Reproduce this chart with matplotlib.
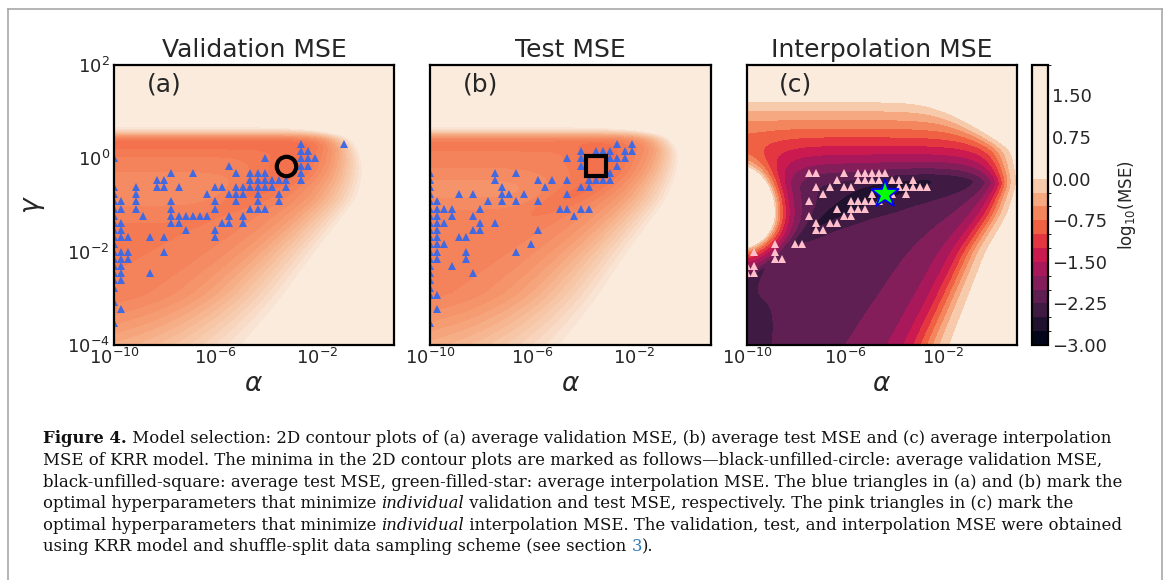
import numpy as np
import matplotlib
matplotlib.use("Agg")
import matplotlib.pyplot as plt
from matplotlib.colors import ListedColormap, BoundaryNorm
from matplotlib.transforms import IdentityTransform
from matplotlib.lines import Line2D
from matplotlib.ticker import NullLocator, FuncFormatter
import seaborn as sns

# ---------------- data ----------------
# hyperparameter grid (40 x 40, log spaced)
alpha_grid = np.logspace(-10, 1, 40)
gamma_grid = np.logspace(-4, 2, 40)

# blue triangles, validation MSE (grid indices: i -> alpha, j -> gamma)
val_rows = {
    28: [26, 32], 27: [26, 27], 26: [0, 21, 26, 27, 28], 25: [16, 26, 27],
    24: [8, 11, 17, 19, 20, 21, 26], 23: [6, 7, 19, 20, 21, 22, 23, 24, 26],
    22: [0, 3, 6, 7, 9, 14, 15, 17, 18, 19, 20, 21, 22, 24],
    21: [0, 3, 13, 16, 17, 18, 20, 23], 20: [0, 1, 3, 8, 14, 17, 20, 23],
    19: [0, 1, 3, 8, 14, 19, 20, 21], 18: [0, 4, 8, 9, 10, 11, 12, 13, 16, 18],
    17: [0, 1, 8, 9, 15, 16, 18], 16: [0, 1, 10, 14], 15: [0, 1, 2, 5, 7, 14],
    14: [0], 13: [0, 1, 2, 7], 12: [0, 1, 2], 11: [0, 1], 10: [0, 1, 5],
    9: [0, 1], 8: [0], 6: [0], 5: [1], 3: [0],
}
# blue triangles, test MSE
test_rows = {
    28: [26, 28], 27: [21, 23, 24, 25, 27, 28], 26: [19, 21, 25, 26, 27],
    25: [21, 26], 24: [0, 9, 12, 25], 23: [0, 9, 15, 17, 19, 22, 23, 24, 25],
    22: [0, 10, 16, 21, 22], 21: [0, 4, 6, 10, 11, 13, 19],
    20: [0, 1, 8, 10, 12, 15], 19: [0, 1, 2, 3, 7, 18, 19, 21, 22],
    18: [0, 1, 3, 6, 20], 17: [0, 1, 2, 7, 9], 16: [0, 1, 6, 7, 15],
    15: [0, 1, 4, 5], 14: [0, 1, 2, 14], 13: [0, 1, 5, 12], 12: [0, 1, 5],
    11: [0, 3], 10: [0, 6], 9: [0], 8: [0], 7: [0, 1], 5: [1], 3: [0],
}
# pink triangles, interpolation MSE
interp_rows = {
    24: [9, 10, 14, 16, 17, 18, 19, 20], 23: [13, 16, 17, 18, 19, 21, 22, 24],
    22: [10, 12, 14, 15, 22, 23, 24, 25, 26], 21: [11, 18, 21, 23],
    20: [9, 15, 16, 17, 18, 19], 19: [13, 15, 16, 17], 18: [9, 14, 15],
    17: [10, 12, 13], 16: [10, 11], 14: [4, 7, 8], 13: [1, 4], 12: [4, 5],
    11: [0, 1], 10: [0, 1],
}
# minima of the averaged MSE (grid indices)
val_min = (24, 25)
test_min = (23, 25)
interp_min = (20, 21)

# outer (high-MSE) boundaries on the right side of each map, read from the
# picture: log10(gamma) -> log10(alpha)
edge_a_lg = [-4.0, -2.0, -0.88, -0.39, 0.0, 0.46, 0.67, 0.85]
edge_a_la = [-3.8, -1.45, -0.05, 0.1, 0.0, -0.45, -1.5, -6.0]
edge_b_lg = [-4.0, -2.0, -0.88, -0.3, 0.1, 0.5, 0.67, 0.85]
edge_b_la = [-3.7, -1.6, -0.3, 0.0, 0.0, -0.4, -1.3, -6.0]
edge_c_lg = [-4.0, -2.0, -1.2, -0.5, 0.2, 0.55, 0.9, 1.25, 1.6]
edge_c_la = [-1.4, 0.0, 0.85, 1.2, 1.0, 0.0, -1.1, -2.5, -8.0]

titles = ["Validation MSE", "Test MSE", "Interpolation MSE"]
panel_tags = ["(a)", "(b)", "(c)"]
cbar_ticks = [-3.0, -2.25, -1.5, -0.75, 0.0, 0.75, 1.5]
levels_c = list(np.arange(-3.0, 0.001, 0.25)) + [2.05]

caption_lines = [
    [("Figure 4.", "bold"), (" Model selection: 2D contour plots of (a) average validation MSE, (b) average test MSE and (c) average interpolation", "normal")],
    [("MSE of KRR model. The minima in the 2D contour plots are marked as follows\u2014black-unfilled-circle: average validation MSE,", "normal")],
    [("black-unfilled-square: average test MSE, green-filled-star: average interpolation MSE. The blue triangles in (a) and (b) mark the", "normal")],
    [("optimal hyperparameters that minimize ", "normal"), ("individual", "italic"), (" validation and test MSE, respectively. The pink triangles in (c) mark the", "normal")],
    [("optimal hyperparameters that minimize ", "normal"), ("individual", "italic"), (" interpolation MSE. The validation, test, and interpolation MSE were obtained", "normal")],
    [("using KRR model and shuffle-split data sampling scheme (see section ", "normal"), ("3", "link"), (").", "normal")],
]


def rows_to_xy(rows):
    xs, ys = [], []
    for j, iis in rows.items():
        for i in iis:
            xs.append(alpha_grid[i])
            ys.append(gamma_grid[j])
    return np.array(xs), np.array(ys)


# ---------------- surfaces (log10 alpha = U, log10 gamma = V) ----------------
u = np.linspace(-10, 1, 440)
v = np.linspace(-4, 2, 300)
U, V = np.meshgrid(u, v)
A, G = 10.0 ** U, 10.0 ** V


def sig(x):
    return 1.0 / (1.0 + np.exp(-x))


def softplus(x, w):
    return w * np.log1p(np.exp(np.clip(x / w, -50, 50)))


def smooth_edge(lg, la, width=0.12):
    e = np.interp(v, lg, la)
    kern = np.exp(-0.5 * (np.arange(-25, 26) * (v[1] - v[0]) / width) ** 2)
    kern /= kern.sum()
    e = np.convolve(np.pad(e, 25, mode="edge"), kern, mode="valid")
    return e[:, None] * np.ones_like(U)


def shape_ab(top_dark, wedge_u, diag_off, min_u, min_amp, base, edge_lg, edge_la):
    fin = (base
           - top_dark * np.exp(-((V - 0.32) / 0.16) ** 2) * sig((-1.8 - U) / 0.5)
           + 0.13 * np.exp(-((V + 0.65) / 0.45) ** 2) * sig((wedge_u - U) / 0.6)
           - 0.12 * np.exp(-((V - (diag_off + 0.2 * (U + 6))) / 0.3) ** 2) * np.exp(-((U + 4.3) / 1.8) ** 2)
           - min_amp * np.exp(-((U - min_u) / 1.0) ** 2 - ((V + 0.05) / 0.35) ** 2)
           + 0.22 * np.clip((-2.9 - V) / 1.1, 0, 1) ** 1.3)
    fin = np.clip(fin, 0, 1)
    u_edge = smooth_edge(edge_lg, edge_la, 0.1)
    wd = 0.95 + 0.75 * np.clip(0.2 - V, 0, None)
    d = (u_edge - U) / wd
    hr = np.where(d > 0, np.exp(-np.maximum(d, 0) ** 1.5), 1.0)
    ht = sig((V - 0.55) / 0.06)
    return 1 - (1 - fin) * (1 - hr) * (1 - ht)


Z_val = shape_ab(0.12, -5.0, -1.0, -3.0, 0.11, 0.11, edge_a_lg, edge_a_la)
Z_test = shape_ab(0.06, -5.5, -1.1, -3.3, 0.14, 0.13, edge_b_lg, edge_b_la)

# interpolation surface
t = U + 10
vl = -2.7 + 0.543 * t - 0.0326 * t ** 2
dv = V - vl
ws = np.clip(0.35 + 0.65 * t / 6.0, 0.35, 1.0)
amp_below = 0.38 + 0.22 * np.clip(t / 3.5, 0, 1)
rise = np.where(dv > 0, 0.37 * np.tanh(dv / (0.5 * ws)), amp_below * np.tanh(-dv / (0.6 * ws)))
base_c = -2.74 + rise
u_edge_c = smooth_edge(edge_c_lg, edge_c_la, 0.12)
w_r = 1 + 0.214 * np.clip(-0.5 - V, 0, None)
d_r = (u_edge_c - U) / w_r
h_r = np.where(d_r > 0, 1.0 / (1.0 + (np.maximum(d_r, 0) / 0.9) ** 2.5), 1.0)
d_t = 1.25 - V
h_t = np.where(d_t > 0, np.minimum(1.0, softplus(1 - d_t / 1.8, 0.04)), 1.0)
sv_b = np.where(V > -1.17, 1.0, 0.75)
r_b = np.sqrt(((U + 10.4) / 1.5) ** 2 + ((V + 1.17) / sv_b) ** 2)
h_b = np.where(r_b < 1, 1.0, np.exp(-(r_b - 1) / 0.4))
Hc = 1 - (1 - h_r) * (1 - h_t) * (1 - h_b)
Z_int = base_c * (1 - Hc) + 0.05 * Hc

# ---------------- figure ----------------
W, H = 1167, 580
fig = plt.figure(figsize=(W / 100, H / 100), dpi=100)
fig.patch.set_facecolor("white")


def px_axes(l, t_, r, b):
    return fig.add_axes([l / W, 1 - b / H, (r - l) / W, (b - t_) / H])


ax_a = px_axes(114, 65, 394, 345)
ax_b = px_axes(430, 65, 711, 345)
ax_c = px_axes(747, 65, 1017, 345)
cax = px_axes(1032, 65, 1048, 345)
axes = [ax_a, ax_b, ax_c]

rocket = sns.color_palette("rocket", as_cmap=True)
n_ab = 16
cmap_ab = ListedColormap(rocket(np.linspace(0.70, 1.0, n_ab)))
levels_ab = [-1.0] + list(np.linspace(0.06, 0.90, 15)) + [3.0]
norm_ab = BoundaryNorm(levels_ab, n_ab)
norm_c = BoundaryNorm(levels_c, rocket.N)

ax_a.contourf(A, G, Z_val, levels=levels_ab, cmap=cmap_ab, norm=norm_ab)
ax_b.contourf(A, G, Z_test, levels=levels_ab, cmap=cmap_ab, norm=norm_ab)
cs_c = ax_c.contourf(A, G, Z_int, levels=levels_c, cmap=rocket, norm=norm_c)

xa, ya = rows_to_xy(val_rows)
xb, yb = rows_to_xy(test_rows)
xc, yc = rows_to_xy(interp_rows)
ax_a.plot(xa, ya, ls="none", marker="^", ms=5.3, color="royalblue", mew=0)
ax_b.plot(xb, yb, ls="none", marker="^", ms=5.3, color="royalblue", mew=0)
ax_c.plot(xc, yc, ls="none", marker="^", ms=5.3, color="pink", mew=0)
ax_a.plot(alpha_grid[val_min[0]], gamma_grid[val_min[1]], ls="none", marker="o", ms=14,
          mfc="none", mec="black", mew=3)
ax_b.plot(alpha_grid[test_min[0]], gamma_grid[test_min[1]], ls="none", marker="s", ms=14,
          mfc="none", mec="black", mew=3)
ax_c.plot(alpha_grid[interp_min[0]], gamma_grid[interp_min[1]], ls="none", marker="*", ms=21,
          mfc="lime", mec="blue", mew=1.3)

txt_col = "#262626"
for k, ax in enumerate(axes):
    ax.set_xscale("log")
    ax.set_yscale("log")
    ax.set_xlim(1e-10, 10)
    ax.set_ylim(1e-4, 1e2)
    ax.set_xticks([1e-10, 1e-6, 1e-2])
    ax.xaxis.set_minor_locator(NullLocator())
    ax.yaxis.set_minor_locator(NullLocator())
    if k == 0:
        ax.set_yticks([1e-4, 1e-2, 1, 1e2])
        ax.set_ylabel(r"$\gamma$", fontsize=19, color=txt_col, labelpad=14)
    else:
        ax.set_yticks([])
    ax.tick_params(axis="both", length=0, labelsize=13, colors=txt_col)
    ax.tick_params(axis="x", pad=2)
    ax.tick_params(axis="y", pad=3)
    ax.set_xlabel(r"$\alpha$", fontsize=19, color=txt_col, labelpad=2)
    ax.set_title(titles[k], fontsize=18, color=txt_col, pad=6)
    ax.text(0.18, 0.93, panel_tags[k], transform=ax.transAxes, fontsize=18,
            color=txt_col, ha="center", va="center")
    for s in ax.spines.values():
        s.set_linewidth(1.6)
        s.set_color("black")
        s.set_zorder(5)

cb = fig.colorbar(cs_c, cax=cax, spacing="proportional", ticks=cbar_ticks,
                  format=FuncFormatter(lambda x, p: f"{x:.2f}".replace("-", "\u2212")))
cb.outline.set_linewidth(1.6)
cb.ax.tick_params(length=0, labelsize=13, pad=3, colors=txt_col)
cb.set_label(r"log$_{10}$(MSE)", fontsize=12, color=txt_col, labelpad=6)

# frame lines
for (x0, y0, x1, y1) in [(8, 9, 1162, 9), (8, 9, 8, 580), (1162, 9, 1162, 580)]:
    fig.add_artist(Line2D([x0, x1], [H - y0, H - y1], transform=IdentityTransform(),
                          color="#a8a8a8", lw=1.2))

# caption
renderer = fig.canvas.get_renderer()
styles = {
    "normal": dict(fontweight="normal", fontstyle="normal", color="#111111"),
    "bold": dict(fontweight="bold", fontstyle="normal", color="#111111"),
    "italic": dict(fontweight="normal", fontstyle="italic", color="#111111"),
    "link": dict(fontweight="normal", fontstyle="normal", color="#2a7ab8"),
}
cap_family = "DejaVu Serif"


def advance(s, size, st):
    kw = dict(fontsize=size, family=cap_family, **styles[st])
    t1 = fig.text(0, 0, "|" + s + "|", **kw)
    w1 = t1.get_window_extent(renderer).width
    t1.remove()
    t2 = fig.text(0, 0, "||", **kw)
    w2 = t2.get_window_extent(renderer).width
    t2.remove()
    return w1 - w2


base_size = 10.0
w_line1 = sum(advance(s, base_size, st) for s, st in caption_lines[0])
cap_size = base_size * (1107 - 43) / w_line1

baselines = [443, 465, 487, 508, 530, 551]
for line, yb_ in zip(caption_lines, baselines):
    x = 43.0
    for s, st in line:
        fig.text(x, H - yb_, s, transform=IdentityTransform(), fontsize=cap_size,
                 family=cap_family, va="baseline", ha="left", **styles[st])
        x += advance(s, cap_size, st)

fig.savefig("out.png", dpi=100)
